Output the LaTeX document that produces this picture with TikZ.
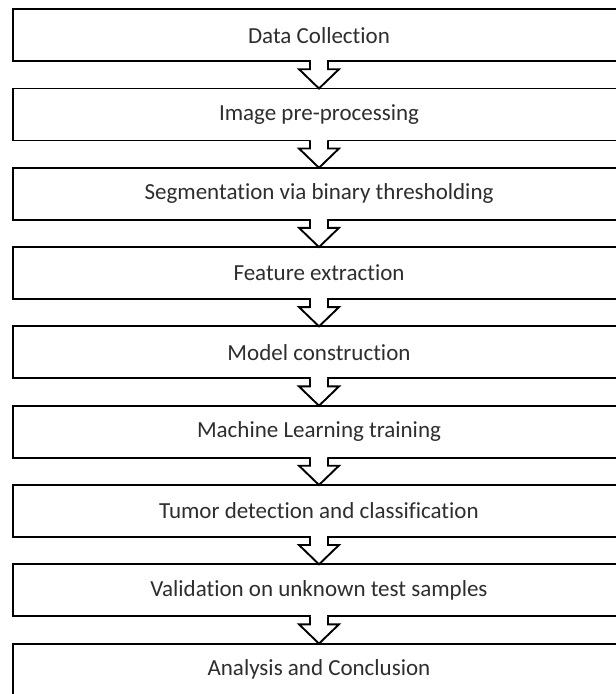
\documentclass[tikz,border=0pt]{standalone}
\usepackage{fontspec}
\setmainfont[Ligatures=NoCommon]{Carlito}
\usetikzlibrary{calc}
\tikzset{
  stepbox/.style={draw=black, line width=1.9pt, fill=white, minimum width=612pt, minimum height=52pt,
    inner sep=0pt, outer sep=0pt, font=\fontsize{23}{27}\selectfont, text=black!82},
  flowarrow/.style={draw=black, line width=1.9pt, line join=miter, fill=white}
}
\newcommand{\blockarrow}[2]{%
  \fill[white] ($(#1.south)+(-8,-1.5)$) -- ($(#1.south)+(8,-1.5)$) -- ($(#1.south)+(8,1)$) -- ($(#1.south)+(-8,1)$) -- cycle;
  \draw[flowarrow] ($(#1.south)+(-9,0)$) -- ($(#1.south)+(-9,8)$) -- ($(#1.south)+(-20,8)$) -- (#2.north)
     -- ($(#1.south)+(20,8)$) -- ($(#1.south)+(9,8)$) -- ($(#1.south)+(9,0)$);
}
\begin{document}
\begin{tikzpicture}[x=1pt,y=-1pt]
\useasboundingbox (0,0) rectangle (616,694);
\clip (0,0) rectangle (616,694);
\fill[white] (0,0) rectangle (616,694);
\foreach \i/\t in {0/Data Collection, 1/Image pre-processing, 2/Segmentation via binary thresholding,
  3/Feature extraction, 4/Model construction, 5/Machine Learning training,
  6/Tumor detection and classification, 7/Validation on unknown test samples, 8/Analysis and Conclusion}{
  \node[stepbox] (b\i) at (319, 35.2+79.3*\i) {\t};
}
\blockarrow{b0}{b1}
\blockarrow{b1}{b2}
\blockarrow{b2}{b3}
\blockarrow{b3}{b4}
\blockarrow{b4}{b5}
\blockarrow{b5}{b6}
\blockarrow{b6}{b7}
\blockarrow{b7}{b8}
\end{tikzpicture}
\end{document}
